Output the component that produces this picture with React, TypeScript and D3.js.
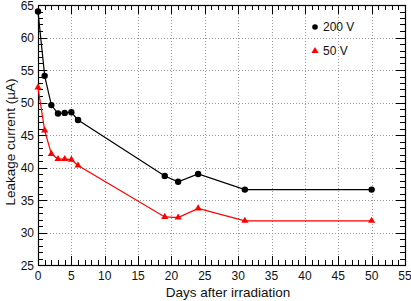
import React from 'react';
import * as d3 from 'd3';

// days after irradiation
const days = [0, 1, 2, 3, 4, 5, 6, 19, 21, 24, 31, 50];
// leakage current (uA) at 200 V
const current200 = [64.0, 54.1, 49.6, 48.3, 48.4, 48.5, 47.3, 38.7, 37.8, 39.0, 36.6, 36.6];
// leakage current (uA) at 50 V
const current50 = [52.3, 45.7, 42.1, 41.3, 41.3, 41.2, 40.3, 32.4, 32.3, 33.7, 31.8, 31.8];

const xTicks = [0, 5, 10, 15, 20, 25, 30, 35, 40, 45, 50, 55];
const yTicks = [25, 30, 35, 40, 45, 50, 55, 60, 65];

const W = 411;
const H = 301;
const margin = { top: 5, right: 6, bottom: 36, left: 38 };

export default function App() {
  const x = d3.scaleLinear().domain([0, 55]).range([margin.left, W - margin.right]);
  const y = d3.scaleLinear().domain([25, 65]).range([H - margin.bottom, margin.top]);
  const x0 = x.range()[0], x1 = x.range()[1];
  const y0 = y.range()[0], y1 = y.range()[1];

  const line = d3.line<number>().x((_, i) => x(days[i]));
  const path200 = line.y((d) => y(d))(current200) || '';
  const path50 = line.y((d) => y(d))(current50) || '';

  const minorX = d3.range(0, 56, 1);
  const minorY = d3.range(25, 66, 1);
  const tri = d3.symbol().type(d3.symbolTriangle).size(22)() || '';

  const font = '"Liberation Sans", Arial, Helvetica, sans-serif';

  return (
    <svg width={W} height={H} style={{ position: 'absolute', left: 0, top: 0, background: '#fff' }} fontFamily={font}>
      {/* grid */}
      <g stroke="#999" strokeWidth={1} strokeDasharray="1,2">
        {xTicks.slice(1, -1).map((t) => (
          <line key={'gx' + t} x1={Math.round(x(t)) + 0.5} x2={Math.round(x(t)) + 0.5} y1={y1} y2={y0} />
        ))}
        {yTicks.slice(1, -1).map((t) => (
          <line key={'gy' + t} x1={x0} x2={x1} y1={Math.round(y(t)) + 0.5} y2={Math.round(y(t)) + 0.5} />
        ))}
      </g>
      {/* ticks */}
      <g stroke="#000" strokeWidth={1}>
        {minorX.map((t) => {
          const px = Math.round(x(t)) + 0.5;
          const len = t % 5 === 0 ? 9 : 5;
          return (
            <g key={'tx' + t}>
              <line x1={px} x2={px} y1={y0} y2={y0 - len} />
              <line x1={px} x2={px} y1={y1} y2={y1 + len} />
            </g>
          );
        })}
        {minorY.map((t) => {
          const py = Math.round(y(t)) + 0.5;
          const len = t % 5 === 0 ? 9 : 5;
          return (
            <g key={'ty' + t}>
              <line x1={x0} x2={x0 + len} y1={py} y2={py} />
              <line x1={x1} x2={x1 - len} y1={py} y2={py} />
            </g>
          );
        })}
      </g>
      <rect x={x0 + 0.5} y={y1 + 0.5} width={x1 - x0} height={y0 - y1} fill="none" stroke="#000" strokeWidth={1.2} />
      {/* tick labels */}
      <g fontSize={12} fill="#111">
        {xTicks.map((t) => (
          <text key={'lx' + t} x={x(t)} y={y0 + 15} textAnchor="middle">{t}</text>
        ))}
        {yTicks.map((t) => (
          <text key={'ly' + t} x={x0 - 4} y={y(t) + 4.5} textAnchor="end">{t}</text>
        ))}
      </g>
      <text x={228} y={H - 4} textAnchor="middle" fontSize={13.5} fill="#111">Days after irradiation</text>
      <text transform={`translate(15, ${(y0 + y1) / 2 + 7}) rotate(-90)`} textAnchor="middle" fontSize={13.5} fill="#111">Leakage current (µA)</text>
      {/* series */}
      <path d={path200} fill="none" stroke="#000" strokeWidth={1.2} />
      <path d={path50} fill="none" stroke="#f00" strokeWidth={1.2} />
      {days.map((d, i) => (
        <circle key={'c' + i} cx={x(d)} cy={y(current200[i])} r={3.2} fill="#000" />
      ))}
      {days.map((d, i) => (
        <path key={'t' + i} d={tri} transform={`translate(${x(d)},${y(current50[i])})`} fill="#f00" />
      ))}
      {/* legend */}
      <circle cx={315} cy={27} r={2.8} fill="#000" />
      <text x={323} y={31} fontSize={12} fill="#111">200 V</text>
      <path d={tri} transform="translate(315,51)" fill="#f00" />
      <text x={323} y={55} fontSize={12} fill="#111">50 V</text>
    </svg>
  );
}
